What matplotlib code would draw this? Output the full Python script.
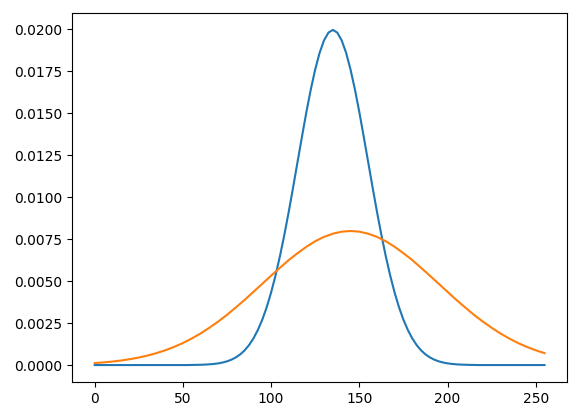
import matplotlib
matplotlib.use("Agg")
import matplotlib.pyplot as plt

# sample grids (gray level 0..255)
x_blue = [i * 2.5 for i in range(103)]
x_orange = list(range(0, 256, 5))

# narrow curve, peak ~0.020 at 135 (step 2.5)
blue = [0, 0, 0, 0, 0, 0, 0, 0, 0, 0, 0, 0, 0, 0, 0, 0, 0, 0, 0, 0, 0, 0,
        0.0000067, 0.0000109, 0.0000177, 0.0000280, 0.0000436, 0.0000670,
        0.000101, 0.000151, 0.000222, 0.000320, 0.000455, 0.000636, 0.000876,
        0.00119, 0.00159, 0.00209, 0.00270, 0.00344, 0.00432, 0.00533, 0.00648,
        0.00775, 0.00913, 0.01059, 0.01210, 0.01360, 0.01506, 0.01641, 0.01760,
        0.01859, 0.01933, 0.01979, 0.01995,
        0.01979, 0.01933, 0.01859, 0.01760, 0.01641, 0.01506, 0.01360, 0.01210,
        0.01059, 0.00913, 0.00775, 0.00648, 0.00533, 0.00432, 0.00344, 0.00270,
        0.00209, 0.00159, 0.00119, 0.000876, 0.000636, 0.000455, 0.000320,
        0.000222, 0.000151, 0.000101, 0.0000670, 0.0000436, 0.0000280,
        0.0000177, 0.0000109, 0.0000067,
        0, 0, 0, 0, 0, 0, 0, 0, 0, 0, 0, 0, 0, 0, 0, 0]

# wide curve, peak ~0.008 at 145 (step 5)
orange = [0.000119, 0.000158, 0.000208, 0.000272, 0.000351, 0.000448, 0.000567,
          0.000710, 0.000880, 0.00108, 0.00131, 0.00158, 0.00188, 0.00222,
          0.00259, 0.00299, 0.00343, 0.00388, 0.00436, 0.00484, 0.00532, 0.00579,
          0.00625, 0.00666, 0.00704, 0.00737, 0.00763, 0.00782, 0.00794, 0.00798,
          0.00794, 0.00782, 0.00763, 0.00737, 0.00704, 0.00666, 0.00625, 0.00579,
          0.00532, 0.00484, 0.00436, 0.00388, 0.00343, 0.00299, 0.00259, 0.00222,
          0.00188, 0.00158, 0.00131, 0.00108, 0.000880, 0.000710]

fig, ax = plt.subplots(figsize=(5.87, 4.11), dpi=100)
fig.subplots_adjust(left=0.123, right=0.966, top=0.968, bottom=0.071)
ax.plot(x_blue, blue)
ax.plot(x_orange, orange)
fig.savefig("out.png", dpi=100)
